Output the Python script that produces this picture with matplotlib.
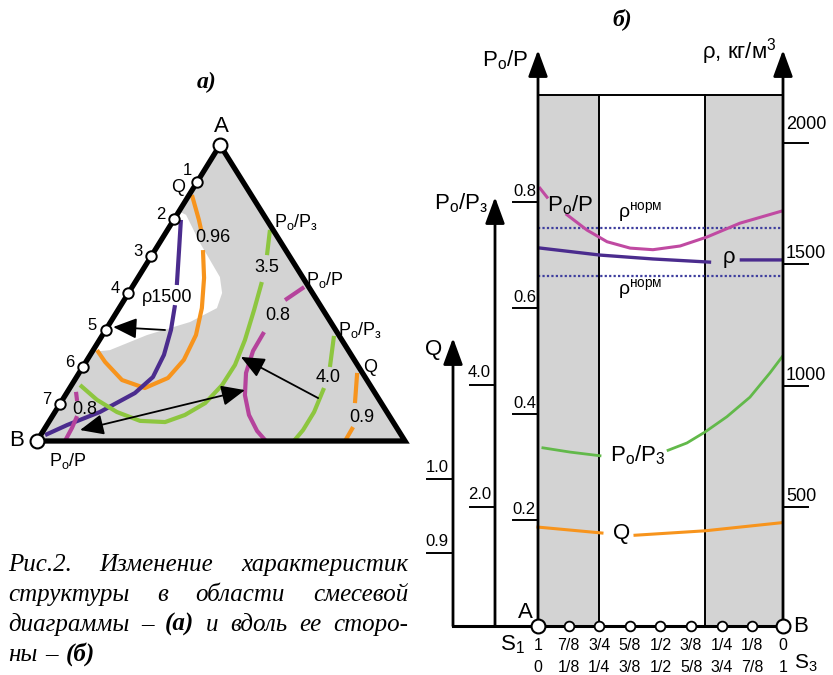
import numpy as np
import matplotlib.pyplot as plt
from matplotlib.patches import Polygon, FancyArrowPatch, Rectangle

plt.rcParams['font.family'] = ['Liberation Sans', 'DejaVu Sans']
plt.rcParams['mathtext.fontset'] = 'custom'
plt.rcParams['mathtext.rm'] = 'Liberation Sans'
plt.rcParams['mathtext.it'] = 'Liberation Sans:italic'
plt.rcParams['mathtext.bf'] = 'Liberation Sans:bold'
plt.rcParams['mathtext.default'] = 'regular'

nan = np.nan

# ---------------- а) mixture triangle ----------------
# u runs along the base B -> C, v is the height (0 on the base, 1 at A)
side_frac = np.arange(1, 8) / 8
side_labels = ['1', '2', '3', '4', '5', '6', '7']

q096_u = [0.421, 0.440, 0.446, nan, 0.451, 0.454, 0.448, 0.432, 0.399, 0.356, 0.293, 0.231, 0.185, 0.163]
q096_v = [0.831, 0.747, 0.713, nan, 0.645, 0.551, 0.449, 0.358, 0.274, 0.213, 0.179, 0.206, 0.267, 0.307]

rho1500_u = [0.391, 0.386, 0.380, nan, 0.375, 0.364, 0.345, 0.315, 0.266, 0.171, 0.082, 0.022]
rho1500_v = [0.747, 0.645, 0.527, nan, 0.459, 0.375, 0.291, 0.216, 0.162, 0.098, 0.054, 0.020]

pp3_35_u = [0.633, 0.625, nan, 0.611, 0.590, 0.565, 0.538, 0.503, 0.457, 0.402, 0.348, 0.280, 0.217, 0.163, 0.117]
pp3_35_v = [0.713, 0.628, nan, 0.537, 0.443, 0.341, 0.257, 0.189, 0.128, 0.088, 0.064, 0.068, 0.098, 0.139, 0.189]

pp3_40_u = [0.807, 0.796, nan, 0.780, 0.753, 0.723, 0.698]
pp3_40_v = [0.355, 0.250, nan, 0.179, 0.098, 0.037, 0.0]

q09_u = [0.870, 0.864, nan, 0.859, 0.837]
q09_v = [0.230, 0.128, nan, 0.047, 0.0]

pp08_u = [0.726, 0.674, nan, 0.617, 0.587, 0.568, 0.565, 0.576, 0.598, 0.622]
pp08_v = [0.520, 0.476, nan, 0.368, 0.304, 0.230, 0.155, 0.088, 0.034, 0.0]

pp08b_u = [0.106, 0.109, nan, 0.109, 0.095, 0.076]
pp08b_v = [0.166, 0.135, nan, 0.084, 0.044, 0.0]

white_u = [0.389, 0.405, 0.443, 0.497, 0.503, 0.489, 0.416, 0.299, 0.198, 0.150]
white_v = [0.774, 0.764, 0.669, 0.554, 0.500, 0.449, 0.402, 0.358, 0.307, 0.301]

# arrows: (tail u, tail v, head u, head v)
arrows_a = [(0.348, 0.375, 0.207, 0.385), (0.764, 0.145, 0.554, 0.284)]
arrow_both = (0.117, 0.037, 0.565, 0.172)

# ---------------- б) along side A-B ----------------
s3_pos = np.arange(0, 9) / 8
s1_labels = ['1', '7/8', '3/4', '5/8', '1/2', '3/8', '1/4', '1/8', '0']
s3_labels = ['0', '1/8', '1/4', '3/8', '1/2', '5/8', '3/4', '7/8', '1']
shaded_bands = [(0.0, 0.25), (0.682, 1.0)]

pp_ticks = [0.2, 0.4, 0.6, 0.8]
rho_ticks = [500, 1000, 1500, 2000]
pp3_ticks = [2.0, 4.0]
q_ticks = [0.9, 1.0]
rho_norm = [1650, 1450]

pp_s = [0.008, 0.037, nan, 0.118, 0.2, 0.282, 0.376, 0.469, 0.580, 0.690, 0.824, 0.996]
pp_val = [0.826, 0.809, nan, 0.776, 0.747, 0.725, 0.713, 0.710, 0.717, 0.734, 0.760, 0.783]

rho_s = [0.008, 0.253, 0.469, 0.70, nan, 0.83, 0.996]
rho_val = [1567, 1538, 1522, 1509, nan, 1518, 1518]

pp3_s = [0.02, 0.131, 0.253, nan, 0.531, 0.608, 0.682, 0.771, 0.865, 0.947, 0.996]
pp3_val = [2.97, 2.90, 2.84, nan, 2.93, 3.05, 3.23, 3.48, 3.80, 4.20, 4.46]

q_s = [0.0, 0.131, 0.261, nan, 0.396, 0.539, 0.682, 0.824, 0.996]
q_val = [0.935, 0.931, 0.927, nan, 0.924, 0.927, 0.930, 0.935, 0.941]

caption_lines = [
    ['Рис.2.', 'Изменение', 'характеристик'],
    ['структуры', 'в', 'области', 'смесевой'],
    ['диаграммы', '–', '(а)', 'и', 'вдоль', 'ее', 'сторо-'],
    ['ны', '–', '(б)'],
]

GRAY = '#d3d3d3'
ORANGE = '#f7941d'
VIOLET = '#4b2c8e'
GREEN = '#8dc63f'
GREEN2 = '#62b94a'
MAGENTA = '#b5439c'
MAGENTA2 = '#c04aa2'

fig = plt.figure(figsize=(8.33, 6.75), dpi=100)
ax = fig.add_axes([0, 0, 1, 1])
ax.set_xlim(0, 833)
ax.set_ylim(675, 0)
ax.axis('off')

# triangle frame in figure pixels
TA, TB, TC = (220, 145), (37, 441), (405, 441)
uA = (TA[0] - TB[0]) / (TC[0] - TB[0])


def tri(u, v):
    u = np.asarray(u, float)
    v = np.asarray(v, float)
    return TB[0] + u * (TC[0] - TB[0]), TB[1] - v * (TB[1] - TA[1])


ax.add_patch(Polygon([TA, TB, TC], closed=True, fc=GRAY, ec='none', zorder=1))
wx, wy = tri(white_u, white_v)
ax.add_patch(Polygon(np.column_stack([wx, wy]), closed=True, fc='white', ec='none', zorder=1.5))

for cu, cv, col in [(q096_u, q096_v, ORANGE), (rho1500_u, rho1500_v, VIOLET),
                    (pp3_35_u, pp3_35_v, GREEN), (pp3_40_u, pp3_40_v, GREEN),
                    (q09_u, q09_v, ORANGE), (pp08_u, pp08_v, MAGENTA),
                    (pp08b_u, pp08b_v, MAGENTA)]:
    x, y = tri(cu, cv)
    ax.plot(x, y, color=col, lw=3, solid_capstyle='butt', zorder=3)

for tu, tv, hu, hv in arrows_a:
    ax.add_patch(FancyArrowPatch(tri(tu, tv), tri(hu, hv),
                                 arrowstyle='-|>,head_length=0.8,head_width=0.35',
                                 mutation_scale=18, lw=1.3, color='k',
                                 shrinkA=0, shrinkB=0, zorder=3.5))
tu, tv, hu, hv = arrow_both
ax.add_patch(FancyArrowPatch(tri(tu, tv), tri(hu, hv),
                             arrowstyle='<|-|>,head_length=0.8,head_width=0.35',
                             mutation_scale=18, lw=1.3, color='k',
                             shrinkA=0, shrinkB=0, zorder=3.5))

ax.add_patch(Polygon([TA, TB, TC], closed=True, fill=False, ec='k', lw=3.8,
                     joinstyle='miter', zorder=4))

px, py = tri(uA * (1 - side_frac), 1 - side_frac)
ax.plot(px, py, 'o', ms=7.5, mfc='white', mec='k', mew=1.4, zorder=5)
ax.plot([TA[0], TB[0]], [TA[1], TB[1]], 'o', ms=10, mfc='white', mec='k', mew=1.5, zorder=5)
for x, y, lab in zip(px, py, side_labels):
    off = (-7, 8.5) if lab == '1' else (-9.5, 3.5)
    ax.annotate(lab, (x, y), xytext=off, textcoords='offset points',
                ha='center', va='center', fontsize=12)

tfs = 13
ax.text(221, 126, 'A', ha='center', va='center', fontsize=16)
ax.text(17, 441, 'B', ha='center', va='center', fontsize=16)
ax.text(178, 187, 'Q', ha='center', va='center', fontsize=tfs)
ax.text(68, 461, 'P$_o$/P', ha='center', va='center', fontsize=tfs)
ax.text(296, 222, 'P$_o$/P$_з$', ha='center', va='center', fontsize=tfs)
ax.text(325, 280, 'P$_o$/P', ha='center', va='center', fontsize=tfs)
ax.text(360, 330, 'P$_o$/P$_з$', ha='center', va='center', fontsize=tfs)
ax.text(370, 367, 'Q', ha='center', va='center', fontsize=tfs)
ax.text(213, 237, '0.96', ha='center', va='center', fontsize=tfs)
ax.text(167, 297, 'ρ1500', ha='center', va='center', fontsize=tfs)
ax.text(267, 268, '3.5', ha='center', va='center', fontsize=tfs)
ax.text(278, 316, '0.8', ha='center', va='center', fontsize=tfs)
ax.text(328, 377, '4.0', ha='center', va='center', fontsize=tfs)
ax.text(362, 417, '0.9', ha='center', va='center', fontsize=tfs)
ax.text(85, 410, '0.8', ha='center', va='center', fontsize=tfs)
ax.text(207, 82, 'а)', ha='center', va='center', fontsize=17, family='Liberation Serif',
        style='italic', fontweight='bold')

# ---------------- б) ----------------
X0, X1 = 538, 783
Y_BOT, Y_TOP = 626, 95


def bx(s):
    return X0 + np.asarray(s, float) * (X1 - X0)


def y_pp(v):
    return Y_BOT - np.asarray(v, float) * 530


def y_rho(r):
    return 628.5 - np.asarray(r, float) * 0.2428


def y_pp3(v):
    return 629 - np.asarray(v, float) * 61


def y_q(q):
    return 479 + (1 - np.asarray(q, float)) * 740


for s0, s1 in shaded_bands:
    ax.add_patch(Rectangle((bx(s0), Y_TOP), bx(s1) - bx(s0), Y_BOT - Y_TOP,
                           fc=GRAY, ec='none', zorder=0))
    for s in (s0, s1):
        if 0 < s < 1:
            ax.plot([bx(s)] * 2, [Y_TOP, Y_BOT], color='k', lw=1.4, zorder=2)
ax.plot([X0, X1], [Y_TOP, Y_TOP], color='k', lw=1.4, zorder=2)

# axes with arrows
for xa, ytip in [(X0, 50), (X1, 50), (495, 197), (453, 338)]:
    ax.add_patch(FancyArrowPatch((xa, Y_BOT), (xa, ytip),
                                 arrowstyle='-|>,head_length=0.9,head_width=0.33',
                                 mutation_scale=18, lw=2, color='k',
                                 shrinkA=0, shrinkB=0, zorder=4))
ax.plot([453, X1], [Y_BOT, Y_BOT], color='k', lw=2.2, zorder=4)

# ticks
for v in pp_ticks:
    ax.plot([513, X0], [y_pp(v)] * 2, color='k', lw=1.4)
    ax.text(536, y_pp(v) - 3, f'{v:.1f}', ha='right', va='bottom', fontsize=12)
for r in rho_ticks:
    ax.plot([X1, 808], [y_rho(r)] * 2, color='k', lw=1.4)
    ax.text(786, y_rho(r) - (10 if r == 2000 else 2), f'{r}', ha='left', va='bottom', fontsize=13)
for v in pp3_ticks:
    ax.plot([470, 495], [y_pp3(v)] * 2, color='k', lw=1.4)
    ax.text(491, y_pp3(v) - 5, f'{v:.1f}', ha='right', va='bottom', fontsize=12)
for q in q_ticks:
    ax.plot([427, 453], [y_q(q)] * 2, color='k', lw=1.4)
    ax.text(449, y_q(q) - 4, f'{q:.1f}', ha='right', va='bottom', fontsize=12)

ax.text(505, 60, 'P$_o$/P', ha='center', va='center', fontsize=16)
ax.text(776, 52, 'ρ, кг/м$^3$', ha='right', va='center', fontsize=16)
ax.text(461, 203, 'P$_o$/P$_з$', ha='center', va='center', fontsize=16)
ax.text(434, 349, 'Q', ha='center', va='center', fontsize=16)
ax.text(622, 19, 'б)', ha='center', va='center', fontsize=17, family='Liberation Serif',
        style='italic', fontweight='bold')

# normative density band
for r in rho_norm:
    ax.plot([X0, X1], [y_rho(r)] * 2, color='#3e3e9e', lw=1.6, ls=(0, (1, 1)), zorder=2)
ax.text(640, 212, 'ρ$^{норм}$', ha='center', va='center', fontsize=14)
ax.text(640, 289, 'ρ$^{норм}$', ha='center', va='center', fontsize=14)

# curves
ax.plot(bx(pp_s), y_pp(pp_val), color=MAGENTA2, lw=2.2, zorder=3)
ax.plot(bx(rho_s), y_rho(rho_val), color=VIOLET, lw=2.4, zorder=3)
ax.plot(bx(pp3_s), y_pp3(pp3_val), color=GREEN2, lw=2, zorder=3)
ax.plot(bx(q_s), y_q(q_val), color=ORANGE, lw=2.2, zorder=3)
ax.text(570, 205, 'P$_o$/P', ha='center', va='center', fontsize=16)
ax.text(729, 258, 'ρ', ha='center', va='center', fontsize=16)
ax.text(638, 455, 'P$_o$/P$_3$', ha='center', va='center', fontsize=16)
ax.text(622, 534, 'Q', ha='center', va='center', fontsize=16)

# points along the side
bpx = bx(s3_pos)
ax.plot(bpx[1:-1], [Y_BOT] * 7, 'o', ms=7, mfc='white', mec='k', mew=1.3, zorder=5)
ax.plot(bpx[[0, -1]], [Y_BOT] * 2, 'o', ms=10, mfc='white', mec='k', mew=1.5, zorder=5)
for x, l1, l3 in zip(bpx, s1_labels, s3_labels):
    ax.text(x, 646, l1, ha='center', va='center', fontsize=11.5)
    ax.text(x, 668, l3, ha='center', va='center', fontsize=11.5)
ax.text(525, 612, 'A', ha='center', va='center', fontsize=16)
ax.text(801, 626, 'B', ha='center', va='center', fontsize=16)
ax.text(512, 645, 'S$_1$', ha='center', va='center', fontsize=16)
ax.text(806, 663, 'S$_3$', ha='center', va='center', fontsize=15)

# caption, justified
fig.canvas.draw()
renderer = fig.canvas.get_renderer()
left, right = 8, 408
baselines = [571, 601, 631, 661]
for i, (words, base) in enumerate(zip(caption_lines, baselines)):
    texts = []
    for w in words:
        t = ax.text(0, base, w, va='baseline', ha='left', fontsize=18,
                    family='Liberation Serif', style='italic',
                    fontweight='bold' if w in ('(а)', '(б)') else 'normal')
        texts.append(t)
    widths = [t.get_window_extent(renderer).width for t in texts]
    if i < len(caption_lines) - 1:
        gap = (right - left - sum(widths)) / (len(words) - 1)
    else:
        gap = 8
    x = left
    for t, w in zip(texts, widths):
        t.set_x(x)
        x += w + gap

fig.savefig('out.png', dpi=100)
